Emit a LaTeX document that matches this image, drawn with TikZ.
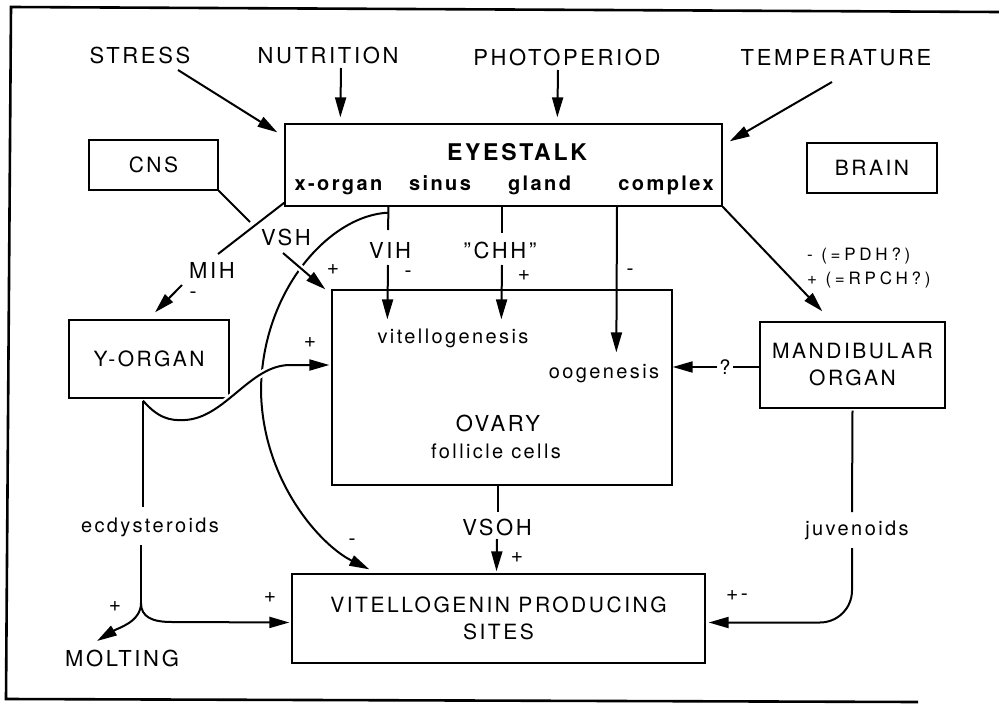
\documentclass[tikz,border=0pt]{standalone}
\usepackage{fontspec}
\setmainfont{TeX Gyre Heros}[LetterSpace=12]
\usetikzlibrary{arrows.meta}

\begin{document}
\begin{tikzpicture}[x=1pt,y=-1pt,>={Triangle[length=20pt,width=11pt]},
  box/.style={draw,line width=1.3pt,inner sep=0pt,align=center,font=\fontsize{21}{27}\selectfont},
  big/.style={font=\fontsize{22}{26}\selectfont,inner sep=2pt},
  lbl/.style={font=\fontsize{20}{24}\selectfont,inner sep=2pt},
  sign/.style={font=\fontsize{21}{22}\selectfont,inner sep=0pt},
  hint/.style={font=\fontsize{17}{20}\selectfont\addfontfeatures{LetterSpace=22},inner sep=1pt,anchor=west},
  link/.style={line width=2pt},
  overpass/.style={preaction={draw,white,line width=7pt,-,shorten <=16pt,shorten >=24pt}}]
\useasboundingbox (0,0) rectangle (999,704);
\draw[line width=2.6pt] (999,12) -- (11,7) -- (6,699) -- (918,702);

% outside factors
\node[big] (stress) at (140,55) {STRESS};
\node[big] (nutrition) at (328,55) {NUTRITION};
\node[big] (photo) at (567,57) {PHOTOPERIOD};
\node[big] (temp) at (836,58) {TEMPERATURE};

% organs
\node[box,minimum width=437pt,minimum height=82pt] (eyestalk) at (503.5,165) {};
\node[font=\bfseries\fontsize{23}{26}\selectfont] (eyename) at (517,152) {EYESTALK};
\node[anchor=base,font=\bfseries\fontsize{20}{24}\selectfont] (xorgan) at (338.5,190) {x-organ};
\node[anchor=base,font=\bfseries\fontsize{20}{24}\selectfont] (sinus) at (440,190) {sinus};
\node[anchor=base,font=\bfseries\fontsize{20}{24}\selectfont] (gland) at (539.5,190) {gland};
\node[anchor=base,font=\bfseries\fontsize{20}{24}\selectfont] (cplx) at (666,190) {complex};
\node[box,minimum width=129pt,minimum height=50pt] (cns) at (153.5,165) {CNS};
\node[box,minimum width=130pt,minimum height=50pt] (brain) at (872,168) {BRAIN};
\node[box,minimum width=160pt,minimum height=78pt] (yorgan) at (149,359) {Y-ORGAN};
\node[box,minimum width=340pt,minimum height=195pt] (ovary) at (502,387.5) {};
\node[box,minimum width=185pt,minimum height=86pt] (mand) at (852.5,365) {MANDIBULAR\\ORGAN};
\node[box,minimum width=413pt,minimum height=89pt] (vitello) at (498.5,618.5) {VITELLOGENIN PRODUCING\\SITES};
\node[big] (molting) at (122,658) {MOLTING};

% inside the ovary
\node[lbl,anchor=base] (vitgen) at (453,343) {vitellogenesis};
\node[lbl,anchor=base] (oogen) at (604,378) {oogenesis};
\node[big] (ovname) at (498,423) {OVARY};
\node[lbl,anchor=base] (follicle) at (496,458) {follicle cells};

% hormones
\node[big] (vsh) at (286,237) {VSH};
\node[big] (mih) at (212,270) {MIH};
\node[big] (vih) at (390,250) {VIH};
\node[big] (chh) at (500,250) {\symbol{34}CHH\symbol{34}};
\node[big] (vsoh) at (497,527) {VSOH};
\node[lbl] (q) at (725,367) {?};
\node[lbl,anchor=base] (ecdys) at (150,532) {ecdysteroids};
\node[lbl,anchor=base] (juv) at (857,535) {juvenoids};
\node[hint] (pdh) at (806,256) {- (=PDH?)};
\node[hint] (rpch) at (806,280) {+ (=RPCH?)};

% signs
\node[sign] at (193,295) {-};
\node[sign] at (408,274) {-};
\node[sign] at (524,276) {+};
\node[sign] at (630,272) {-};
\node[sign] at (333,270) {+};
\node[sign] at (310,343) {+};
\node[sign] at (352,542) {-};
\node[sign] at (517,558) {+};
\node[sign] at (115,607) {+};
\node[sign] at (270,598) {+};
\node[sign] at (737,596) {+-};

% into the eyestalk
\draw[link,->] ([shift={(38,15)}]stress.center) -- ([shift={(-7,9)}]eyestalk.north west);
\draw[link,->] ([shift={(13,13)}]nutrition.center) -- ([shift={(56,-6)}]eyestalk.north west);
\draw[link,->] ([shift={(-9,13)}]photo.center) -- ([shift={(273,-6)}]eyestalk.north west);
\draw[link,->] ([shift={(-4,24)}]temp.center) -- ([shift={(7,18)}]eyestalk.north east);

% out of the eyestalk
\coordinate (vihroot) at ([shift={(-115,0)}]eyestalk.south);
\draw[link] (vihroot) -- ([shift={(-2,-20)}]vih.center);
\draw[link,->] ([shift={(-2,15)}]vih.center) -- ([shift={(56,30)}]ovary.north west);
\draw[link,->] ([shift={(0,6)}]vihroot) .. controls (330,215) and (262,290) .. (261,390)
  .. controls (262,480) and (320,545) .. ([shift={(78,-4)}]vitello.north west);
\draw[link] ([shift={(-1.5,0)}]eyestalk.south) -- ([shift={(2,-17)}]chh.center);
\draw[link,->] ([shift={(2,15)}]chh.center) -- ([shift={(170,30)}]ovary.north west);
\draw[link,->] ([shift={(113.5,0)}]eyestalk.south) -- ([shift={(285,63)}]ovary.north west);
\draw[link,->] (eyestalk.south east) -- ([shift={(63,-10)}]mand.north west);
\draw[link] ([shift={(0,-4)}]eyestalk.south west) -- ([shift={(6,-16)}]mih.center);
\draw[link,->] ([shift={(-30,15)}]mih.center) -- ([shift={(6,-7)}]yorgan.north);

% CNS
\draw[link] (cns.south east) -- ([shift={(-36,-15)}]vsh.center);
\draw[link,->,overpass] ([shift={(-3,16)}]vsh.center) -- ([shift={(-6,0)}]ovary.north west);

% Y-organ
\draw[link,->,overpass] ([shift={(-6,2)}]yorgan.south) .. controls (158,418) and (170,421) .. (185,420)
  .. controls (225,418) and (250,365) .. (290,365) -- ([shift={(-2,-22.5)}]ovary.west);
\draw[link] ([shift={(-6,2)}]yorgan.south) -- ([shift={(-7,-25)}]ecdys.base);
\coordinate (fork) at ([shift={(-9,71)}]ecdys.base);
\draw[link] ([shift={(-9,13)}]ecdys.base) -- (fork);
\draw[link,->] (fork) .. controls (141,622) and (118,628) .. ([shift={(-25,-17)}]molting.center);
\draw[link,->] (fork) .. controls (141,617) and (152,622) .. (172,622) -- ([shift={(-2,4)}]vitello.west);

% ovary and mandibular organ
\draw[link] ([shift={(-4,0)}]ovary.south) -- ([shift={(1,-15)}]vsoh.center);
\draw[link,->] ([shift={(0,12)}]vsoh.center) -- ([shift={(-2,-2)}]vitello.north);
\draw[link] (mand.west |- q) -- (q);
\draw[link,->] (q) -- (q -| ovary.east);
\draw[link] ([shift={(0,2)}]mand.south) -- ([shift={(-5,-23)}]juv.base);
\draw[link,->,rounded corners=32pt] ([shift={(-5,13)}]juv.base) |- ([shift={(3,4)}]vitello.east);
\end{tikzpicture}
\end{document}
